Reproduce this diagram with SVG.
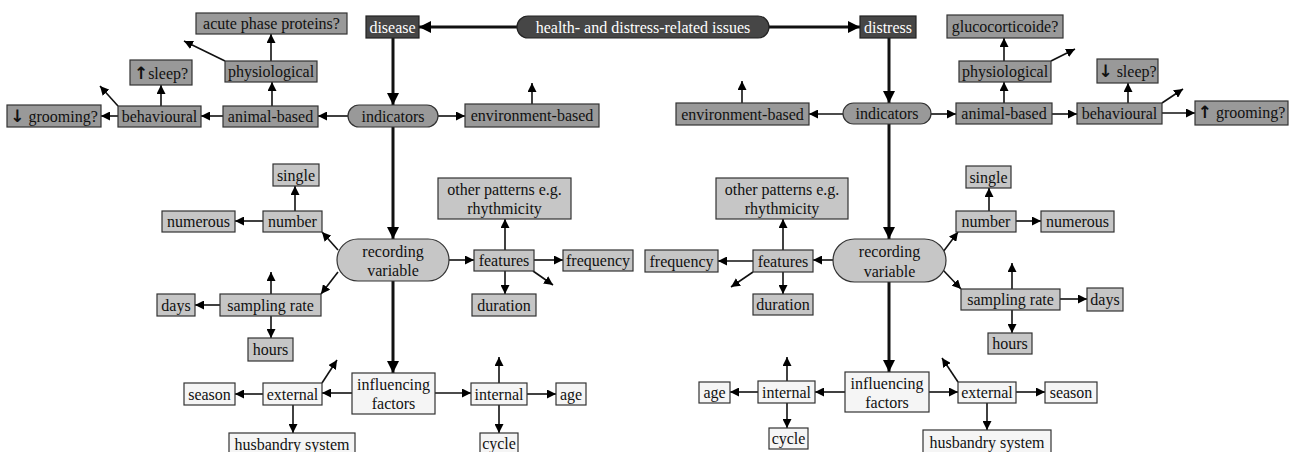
<svg xmlns="http://www.w3.org/2000/svg" width="1290" height="452" viewBox="0 0 1290 452" font-family="'Liberation Serif', 'DejaVu Serif', serif">
<defs>
<marker id="a" viewBox="0 0 10 10" refX="10" refY="5" markerWidth="9" markerHeight="9" markerUnits="userSpaceOnUse" orient="auto"><path d="M0,0 L10,5 L0,10 z" fill="#000"/></marker>
<marker id="b" viewBox="0 0 10 10" refX="10" refY="5" markerWidth="12" markerHeight="12" markerUnits="userSpaceOnUse" orient="auto"><path d="M0,0 L10,5 L0,10 z" fill="#000"/></marker>
</defs>
<style>
text{font-family:'Liberation Serif','DejaVu Serif',serif;font-size:16px;text-anchor:middle;dominant-baseline:central;fill:#111}
.dk rect{fill:#464646;stroke:#222;stroke-width:1.2}
.dk text{fill:#fff}
.md rect{fill:#999;stroke:#333;stroke-width:1.2}
.lt rect{fill:#c6c6c6;stroke:#333;stroke-width:1.2}
.wh rect{fill:#f5f5f5;stroke:#333;stroke-width:1.2}
.ar{font-family:'DejaVu Sans',sans-serif;font-weight:bold;font-size:17px}
#conn line{stroke:#111;stroke-width:1.6;marker-end:url(#a)}
#conn line.t{stroke-width:3;marker-end:url(#b)}
</style>
<rect width="1290" height="452" fill="#fff"/>

<g id="conn">
<line class="t" x1="517" y1="27" x2="419" y2="27"/>
<line class="t" x1="769" y1="27" x2="860" y2="27"/>
<line class="t" x1="393" y1="38" x2="393" y2="105"/>
<line x1="348" y1="116" x2="318" y2="116"/>
<line x1="223" y1="116" x2="201" y2="116"/>
<line x1="118" y1="116" x2="101" y2="116"/>
<line x1="161" y1="106" x2="161" y2="85"/>
<line x1="118" y1="106" x2="100" y2="86"/>
<line x1="272" y1="106" x2="272" y2="82"/>
<line x1="271" y1="61" x2="271" y2="34"/>
<line x1="225" y1="61" x2="184" y2="41"/>
<line x1="438" y1="116" x2="465" y2="116"/>
<line x1="532" y1="104" x2="532" y2="83"/>
<line class="t" x1="393" y1="127" x2="393" y2="239"/>
<line x1="338" y1="250" x2="322" y2="232"/>
<line x1="263" y1="221" x2="235" y2="221"/>
<line x1="295" y1="211" x2="295" y2="186"/>
<line x1="338" y1="272" x2="321" y2="294"/>
<line x1="220" y1="305" x2="195" y2="305"/>
<line x1="271" y1="316" x2="271" y2="338"/>
<line x1="271" y1="294" x2="271" y2="272"/>
<line x1="449" y1="260" x2="474" y2="260"/>
<line x1="505" y1="250" x2="505" y2="219"/>
<line x1="534" y1="260" x2="563" y2="260"/>
<line x1="505" y1="271" x2="505" y2="294"/>
<line x1="533" y1="271" x2="553" y2="285"/>
<line class="t" x1="393" y1="281" x2="393" y2="373"/>
<line x1="352" y1="393" x2="322" y2="393"/>
<line x1="263" y1="394" x2="235" y2="394"/>
<line x1="293" y1="405" x2="293" y2="433"/>
<line x1="322" y1="383" x2="337" y2="360"/>
<line x1="435" y1="393" x2="471" y2="393"/>
<line x1="527" y1="394" x2="556" y2="394"/>
<line x1="499" y1="383" x2="499" y2="357"/>
<line x1="499" y1="405" x2="499" y2="433"/>
<line class="t" x1="889" y1="38" x2="889" y2="103"/>
<line x1="843" y1="114" x2="809" y2="114"/>
<line x1="742" y1="103" x2="742" y2="81"/>
<line x1="931" y1="114" x2="956" y2="114"/>
<line x1="1052" y1="114" x2="1077" y2="114"/>
<line x1="1162" y1="113" x2="1195" y2="113"/>
<line x1="1128" y1="103" x2="1128" y2="83"/>
<line x1="1162" y1="103" x2="1183" y2="89"/>
<line x1="1004" y1="103" x2="1004" y2="82"/>
<line x1="1004" y1="61" x2="1004" y2="38"/>
<line x1="1051" y1="61" x2="1075" y2="49"/>
<line class="t" x1="889" y1="124" x2="889" y2="239"/>
<line x1="943" y1="252" x2="958" y2="232"/>
<line x1="1016" y1="221" x2="1041" y2="221"/>
<line x1="989" y1="211" x2="989" y2="188"/>
<line x1="943" y1="270" x2="961" y2="289"/>
<line x1="1060" y1="299" x2="1087" y2="299"/>
<line x1="1012" y1="289" x2="1012" y2="263"/>
<line x1="1012" y1="310" x2="1012" y2="333"/>
<line x1="833" y1="260" x2="813" y2="260"/>
<line x1="753" y1="261" x2="718" y2="261"/>
<line x1="783" y1="250" x2="783" y2="219"/>
<line x1="783" y1="272" x2="783" y2="294"/>
<line x1="753" y1="272" x2="731" y2="287"/>
<line class="t" x1="889" y1="282" x2="889" y2="372"/>
<line x1="845" y1="392" x2="815" y2="392"/>
<line x1="758" y1="392" x2="730" y2="392"/>
<line x1="787" y1="381" x2="787" y2="357"/>
<line x1="787" y1="403" x2="787" y2="428"/>
<line x1="929" y1="392" x2="958" y2="392"/>
<line x1="1016" y1="392" x2="1045" y2="392"/>
<line x1="987" y1="403" x2="987" y2="430"/>
<line x1="958" y1="382" x2="942" y2="358"/>
</g>

<g id="health" class="dk"><rect x="517" y="16" width="252" height="22" rx="11"/><text x="643" y="27">health- and distress-related issues</text></g>
<g id="disease" class="dk"><rect x="366" y="16" width="53" height="22"/><text x="392.5" y="27">disease</text></g>
<g id="distress" class="dk"><rect x="860" y="16" width="56" height="22"/><text x="888" y="27">distress</text></g>

<g id="l-indicators" class="md"><rect x="348" y="105" width="90" height="22" rx="11"/><text x="393" y="116">indicators</text></g>
<g id="l-animal" class="md"><rect x="223" y="106" width="95" height="21"/><text x="270.5" y="116.5">animal-based</text></g>
<g id="l-behavioural" class="md"><rect x="118" y="106" width="83" height="21"/><text x="159.5" y="116.5">behavioural</text></g>
<g id="l-grooming" class="md"><rect x="7" y="105" width="94" height="22"/><text x="54" y="116"><tspan class="ar">↓</tspan> grooming?</text></g>
<g id="l-sleep" class="md"><rect x="130" y="60" width="62" height="25"/><text x="161" y="73"><tspan class="ar">↑</tspan>sleep?</text></g>
<g id="l-physiological" class="md"><rect x="225" y="61" width="92" height="21"/><text x="271" y="71.5">physiological</text></g>
<g id="l-acute" class="md"><rect x="196" y="13" width="151" height="21"/><text x="271.5" y="23.5">acute phase proteins?</text></g>
<g id="l-env" class="md"><rect x="465" y="104" width="134" height="23"/><text x="532" y="115.5">environment-based</text></g>

<g id="l-recording" class="lt"><rect x="337" y="239" width="112" height="42" rx="21"/><text x="393" y="251">recording</text><text x="393" y="270">variable</text></g>
<g id="l-number" class="lt"><rect x="263" y="211" width="59" height="21"/><text x="292.5" y="221.5">number</text></g>
<g id="l-single" class="lt"><rect x="273" y="164" width="46" height="22"/><text x="296" y="175">single</text></g>
<g id="l-numerous" class="lt"><rect x="162" y="211" width="73" height="21"/><text x="198.5" y="221.5">numerous</text></g>
<g id="l-sampling" class="lt"><rect x="220" y="294" width="101" height="22"/><text x="270.5" y="305">sampling rate</text></g>
<g id="l-days" class="lt"><rect x="157" y="294" width="38" height="22"/><text x="176" y="305">days</text></g>
<g id="l-hours" class="lt"><rect x="248" y="338" width="45" height="23"/><text x="270.5" y="349.5">hours</text></g>
<g id="l-features" class="lt"><rect x="474" y="250" width="60" height="21"/><text x="504" y="260.5">features</text></g>
<g id="l-other" class="lt"><rect x="438" y="178" width="133" height="41"/><text x="504.5" y="189">other patterns e.g.</text><text x="504.5" y="208">rhythmicity</text></g>
<g id="l-frequency" class="lt"><rect x="563" y="250" width="70" height="21"/><text x="598" y="260.5">frequency</text></g>
<g id="l-duration" class="lt"><rect x="472" y="294" width="64" height="22"/><text x="504" y="305">duration</text></g>

<g id="l-influencing" class="wh"><rect x="352" y="373" width="83" height="41"/><text x="393.5" y="384">influencing</text><text x="393.5" y="403">factors</text></g>
<g id="l-external" class="wh"><rect x="263" y="383" width="59" height="22"/><text x="292.5" y="394">external</text></g>
<g id="l-season" class="wh"><rect x="184" y="383" width="51" height="22"/><text x="209.5" y="394">season</text></g>
<g id="l-husbandry" class="wh"><rect x="229" y="433" width="126" height="24"/><text x="292" y="444">husbandry system</text></g>
<g id="l-internal" class="wh"><rect x="471" y="383" width="56" height="22"/><text x="499" y="394">internal</text></g>
<g id="l-age" class="wh"><rect x="556" y="383" width="30" height="22"/><text x="571" y="394">age</text></g>
<g id="l-cycle" class="wh"><rect x="480" y="433" width="38" height="24"/><text x="499" y="443">cycle</text></g>

<g id="r-indicators" class="md"><rect x="843" y="103" width="88" height="21" rx="10.5"/><text x="887" y="113.5">indicators</text></g>
<g id="r-env" class="md"><rect x="676" y="103" width="133" height="22"/><text x="742.5" y="114">environment-based</text></g>
<g id="r-animal" class="md"><rect x="956" y="103" width="96" height="21"/><text x="1004" y="113.5">animal-based</text></g>
<g id="r-behavioural" class="md"><rect x="1077" y="103" width="85" height="21"/><text x="1119.5" y="113.5">behavioural</text></g>
<g id="r-grooming" class="md"><rect x="1195" y="101" width="93" height="24"/><text x="1241.5" y="112"><tspan class="ar">↑</tspan> grooming?</text></g>
<g id="r-sleep" class="md"><rect x="1097" y="59" width="61" height="24"/><text x="1127.5" y="71"><tspan class="ar">↓</tspan> sleep?</text></g>
<g id="r-physiological" class="md"><rect x="959" y="61" width="92" height="21"/><text x="1005" y="71.5">physiological</text></g>
<g id="r-gluco" class="md"><rect x="947" y="15" width="116" height="23"/><text x="1005" y="26">glucocorticoide?</text></g>

<g id="r-recording" class="lt"><rect x="833" y="239" width="113" height="43" rx="21.5"/><text x="889.5" y="251">recording</text><text x="889.5" y="271">variable</text></g>
<g id="r-number" class="lt"><rect x="956" y="211" width="60" height="21"/><text x="986" y="221.5">number</text></g>
<g id="r-single" class="lt"><rect x="966" y="166" width="45" height="22"/><text x="988.5" y="177">single</text></g>
<g id="r-numerous" class="lt"><rect x="1041" y="211" width="73" height="21"/><text x="1077.5" y="221.5">numerous</text></g>
<g id="r-sampling" class="lt"><rect x="961" y="289" width="99" height="21"/><text x="1010.5" y="299.5">sampling rate</text></g>
<g id="r-days" class="lt"><rect x="1087" y="288" width="36" height="23"/><text x="1105" y="299.5">days</text></g>
<g id="r-hours" class="lt"><rect x="988" y="333" width="44" height="21"/><text x="1010" y="343.5">hours</text></g>
<g id="r-features" class="lt"><rect x="753" y="250" width="60" height="22"/><text x="783" y="261">features</text></g>
<g id="r-other" class="lt"><rect x="716" y="178" width="132" height="41"/><text x="782" y="189">other patterns e.g.</text><text x="782" y="208">rhythmicity</text></g>
<g id="r-frequency" class="lt"><rect x="645" y="250" width="73" height="22"/><text x="681.5" y="261">frequency</text></g>
<g id="r-duration" class="lt"><rect x="753" y="294" width="60" height="21"/><text x="783" y="304.5">duration</text></g>

<g id="r-influencing" class="wh"><rect x="845" y="372" width="84" height="40"/><text x="887" y="383">influencing</text><text x="887" y="402">factors</text></g>
<g id="r-internal" class="wh"><rect x="758" y="381" width="57" height="22"/><text x="786.5" y="392">internal</text></g>
<g id="r-age" class="wh"><rect x="699" y="382" width="31" height="21"/><text x="714.5" y="392.5">age</text></g>
<g id="r-cycle" class="wh"><rect x="769" y="428" width="39" height="21"/><text x="788.5" y="438.5">cycle</text></g>
<g id="r-external" class="wh"><rect x="958" y="382" width="58" height="21"/><text x="987" y="392.5">external</text></g>
<g id="r-season" class="wh"><rect x="1045" y="382" width="52" height="21"/><text x="1071" y="392.5">season</text></g>
<g id="r-husbandry" class="wh"><rect x="923" y="430" width="128" height="27"/><text x="987" y="442">husbandry system</text></g>
</svg>
